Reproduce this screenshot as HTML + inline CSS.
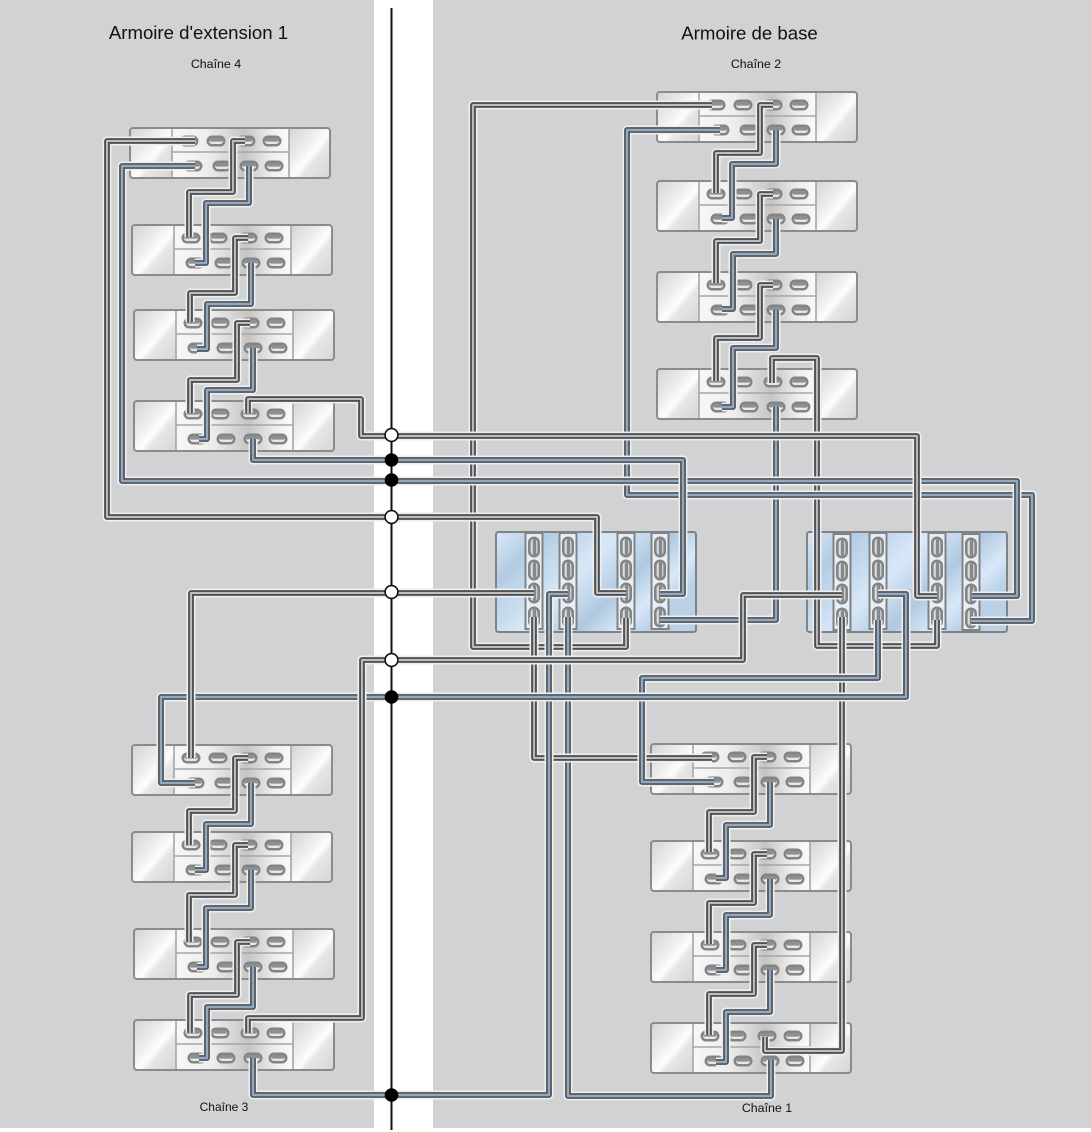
<!DOCTYPE html>
<html><head><meta charset="utf-8"><title>Armoires</title>
<style>
html,body{margin:0;padding:0;background:#fff}
svg{display:block;fill:none;font-family:"Liberation Sans",sans-serif}
text{fill:#111;stroke:none;text-anchor:middle}
.t{font-size:18.6px}.s{font-size:12.4px}
use.h{stroke:#eeeeee;stroke-width:9}
use.d{stroke:#505256;stroke-width:5.8}
use.l{stroke:#bcbdbf;stroke-width:1.9}
use.b{stroke:#8fa9c2;stroke-width:2.4}
path{stroke-linejoin:round}
</style></head><body>
<svg xmlns="http://www.w3.org/2000/svg" width="1091" height="1132" viewBox="0 0 1091 1132">
<defs>
<linearGradient id="gd" x1="0" y1="0" x2="1" y2="1"><stop offset="0" stop-color="#d4d4d4"/><stop offset=".35" stop-color="#ececec"/><stop offset=".55" stop-color="#fdfdfd"/><stop offset=".65" stop-color="#e6e6e6"/><stop offset="1" stop-color="#d6d6d6"/></linearGradient>
<linearGradient id="gm" x1="0" y1="0" x2="1" y2="0"><stop offset="0" stop-color="#f7f7f7"/><stop offset=".3" stop-color="#eeeeee"/><stop offset=".62" stop-color="#c6c5c3"/><stop offset=".85" stop-color="#eeeeee"/><stop offset="1" stop-color="#fafafa"/></linearGradient>
<linearGradient id="gb" x1="0" y1="0" x2="1" y2=".5"><stop offset="0" stop-color="#d8e8f8"/><stop offset=".2" stop-color="#b3cce3"/><stop offset=".5" stop-color="#d8e8f8"/><stop offset=".72" stop-color="#b0c9e0"/><stop offset=".88" stop-color="#d8e8f8"/><stop offset="1" stop-color="#b9d0e6"/></linearGradient>
<g id="p"><rect x="-9.5" y="-5.5" width="19" height="11" rx="5.5" fill="#838486"/><rect x="-7" y="-3" width="14" height="6" rx="3" fill="#e8e8e8"/><rect x="-7" y="-3" width="14" height="3.6" rx="1.8" fill="#8e8f91"/></g>
<g id="q"><rect x="-6" y="-10.5" width="12" height="21" rx="6" fill="#838486"/><rect x="-3.4" y="-8" width="6.8" height="16" rx="3.4" fill="#dcdcdc"/><rect x="-1.2" y="-8" width="3.4" height="16" rx="1.7" fill="#87888a"/></g>
<g id="u">
<rect x="1" y="1" width="200" height="50" rx="3" fill="#eee"/>
<rect x="2" y="2" width="41" height="48" fill="url(#gd)"/>
<rect x="160" y="2" width="40" height="48" fill="url(#gd)"/>
<rect x="43" y="2" width="117" height="48" fill="url(#gm)"/>
<path d="M43 1V51M160 1V51M43 25H160" stroke="#a5a6a8" stroke-width="1.6"/>
<rect x="1" y="1" width="200" height="50" rx="3" stroke="#8a8b8d" stroke-width="2"/>
<use href="#p" x="60" y="14"/><use href="#p" x="87" y="14"/><use href="#p" x="117" y="14"/><use href="#p" x="143" y="14"/>
<use href="#p" x="64" y="39"/><use href="#p" x="93" y="39"/><use href="#p" x="120" y="39"/><use href="#p" x="145" y="39"/>
</g>
<g id="cc">
<rect x="1" y="1" width="200" height="100" rx="2.5" fill="url(#gb)" stroke="#808285" stroke-width="2"/>
</g>
<g id="col"><rect x="-8.5" y="-1" width="17" height="96" fill="#e6eef6" stroke="#808285" stroke-width="2"/>
<use href="#q" y="13"/><use href="#q" y="36"/><use href="#q" y="59"/><use href="#q" y="83"/></g>

<path id="a1" d="M245 141H233V192H189V237"/>
<path id="a2" d="M249 166V203H206V263H195"/>
<path id="a3" d="M248 238H235V293H190V322"/>
<path id="a4" d="M251 263V304H207V349H197"/>
<path id="a5" d="M250 323H237V380H190V413"/>
<path id="a6" d="M253 348V390H207V439H199"/>
<path id="r1" d="M773 105H760V153H716V193"/>
<path id="r2" d="M776 130V164H732V218H722"/>
<path id="r3" d="M773 194H760V241H716V283"/>
<path id="r4" d="M776 219V254H733V309H722"/>
<path id="r5" d="M773 285H760V338H716V381"/>
<path id="r6" d="M776 310V348H733V407H722"/>
<path id="b1" d="M248 758H235V811H189V845"/>
<path id="b2" d="M251 783V824H206V870H195"/>
<path id="b3" d="M248 845H235V895H189V942"/>
<path id="b4" d="M251 870V908H206V967H197"/>
<path id="b5" d="M250 942H237V995H190V1033"/>
<path id="b6" d="M253 967V1007H207V1058H199"/>
<path id="e1" d="M767 757H754V812H709V852"/>
<path id="e2" d="M770 782V825H726V878H716"/>
<path id="e3" d="M767 854H754V903H709V944"/>
<path id="e4" d="M770 879V915H726V970H716"/>
<path id="e5" d="M767 945H754V994H709V1035"/>
<path id="e6" d="M770 970V1012H726V1062H716"/>
<path id="x1" d="M772 383V358H817V646H937V620"/>
<path id="x2" d="M776 407V620H660"/>
<path id="x3" d="M712 105H473V647H626V618"/>
<path id="x4" d="M720 130H627V495H1032V621H971"/>
<path id="x5" d="M248 1033V1018H362V660H743V595H842"/>
<path id="x6" d="M534 593H191V758"/>
<path id="x7" d="M195 783H161V697H906V594H878"/>
<path id="x8" d="M253 1058V1095H549V594H568"/>
<path id="x9" d="M534 617V758H712"/>
<path id="x10" d="M714 782H642V678H878V620"/>
<path id="x11" d="M568 617V1096H771V1060"/>
<path id="x12" d="M842 617V1051H765V1037"/>
<path id="x13" d="M195 141H107V517H597V593H626"/>
<path id="x14" d="M195 166H122V481H1017V596H972"/>
<path id="x15" d="M248 413V399H361V436H917V596H937"/>
<path id="x16" d="M253 439V460H683V594H660"/>
</defs>

<rect x="0" y="0" width="374" height="1128" fill="#d1d2d4"/>
<rect x="433" y="0" width="658" height="1128" fill="#d1d2d4"/>

<text class="t" x="198.5" y="39">Armoire d'extension 1</text>
<text class="t" x="749.5" y="39.5">Armoire de base</text>
<text class="s" x="216" y="68">Chaîne 4</text>
<text class="s" x="756" y="68">Chaîne 2</text>
<text class="s" x="224" y="1111" style="font-size:12px">Chaîne 3</text>
<text class="s" x="767" y="1112">Chaîne 1</text>

<use href="#u" x="129" y="127"/><use href="#u" x="131" y="224"/><use href="#u" x="133" y="309"/><use href="#u" x="133" y="400"/>
<use href="#u" x="131" y="744"/><use href="#u" x="131" y="831"/><use href="#u" x="133" y="928"/><use href="#u" x="133" y="1019"/>
<use href="#u" x="656" y="91"/><use href="#u" x="656" y="180"/><use href="#u" x="656" y="271"/><use href="#u" x="656" y="368"/>
<use href="#u" x="650" y="743"/><use href="#u" x="650" y="840"/><use href="#u" x="650" y="931"/><use href="#u" x="650" y="1022"/>

<use href="#cc" x="495" y="531"/><use href="#cc" x="806" y="531"/>
<use href="#col" x="534" y="534"/><use href="#col" x="568" y="534"/><use href="#col" x="626" y="534"/><use href="#col" x="660" y="534"/>
<use href="#col" x="842" y="535"/><use href="#col" x="878" y="534"/><use href="#col" x="937" y="534"/><use href="#col" x="971" y="535"/>

<!-- cables -->
<use href="#a1" class="h"/><use href="#a1" class="d"/><use href="#a1" class="l"/>
<use href="#a2" class="h"/><use href="#a2" class="d"/><use href="#a2" class="b"/>
<use href="#a3" class="h"/><use href="#a3" class="d"/><use href="#a3" class="l"/>
<use href="#a4" class="h"/><use href="#a4" class="d"/><use href="#a4" class="b"/>
<use href="#a5" class="h"/><use href="#a5" class="d"/><use href="#a5" class="l"/>
<use href="#a6" class="h"/><use href="#a6" class="d"/><use href="#a6" class="b"/>
<use href="#r1" class="h"/><use href="#r1" class="d"/><use href="#r1" class="l"/>
<use href="#r2" class="h"/><use href="#r2" class="d"/><use href="#r2" class="b"/>
<use href="#r3" class="h"/><use href="#r3" class="d"/><use href="#r3" class="l"/>
<use href="#r4" class="h"/><use href="#r4" class="d"/><use href="#r4" class="b"/>
<use href="#r5" class="h"/><use href="#r5" class="d"/><use href="#r5" class="l"/>
<use href="#r6" class="h"/><use href="#r6" class="d"/><use href="#r6" class="b"/>
<use href="#b1" class="h"/><use href="#b1" class="d"/><use href="#b1" class="l"/>
<use href="#b2" class="h"/><use href="#b2" class="d"/><use href="#b2" class="b"/>
<use href="#b3" class="h"/><use href="#b3" class="d"/><use href="#b3" class="l"/>
<use href="#b4" class="h"/><use href="#b4" class="d"/><use href="#b4" class="b"/>
<use href="#b5" class="h"/><use href="#b5" class="d"/><use href="#b5" class="l"/>
<use href="#b6" class="h"/><use href="#b6" class="d"/><use href="#b6" class="b"/>
<use href="#e1" class="h"/><use href="#e1" class="d"/><use href="#e1" class="l"/>
<use href="#e2" class="h"/><use href="#e2" class="d"/><use href="#e2" class="b"/>
<use href="#e3" class="h"/><use href="#e3" class="d"/><use href="#e3" class="l"/>
<use href="#e4" class="h"/><use href="#e4" class="d"/><use href="#e4" class="b"/>
<use href="#e5" class="h"/><use href="#e5" class="d"/><use href="#e5" class="l"/>
<use href="#e6" class="h"/><use href="#e6" class="d"/><use href="#e6" class="b"/>
<use href="#x1" class="h"/><use href="#x1" class="d"/><use href="#x1" class="l"/>
<use href="#x2" class="h"/><use href="#x2" class="d"/><use href="#x2" class="b"/>
<use href="#x3" class="h"/><use href="#x3" class="d"/><use href="#x3" class="l"/>
<use href="#x12" class="h"/><use href="#x12" class="d"/><use href="#x12" class="l"/>
<use href="#x11" class="h"/><use href="#x11" class="d"/><use href="#x11" class="b"/>
<use href="#x9" class="h"/><use href="#x9" class="d"/><use href="#x9" class="l"/>
<use href="#x8" class="h"/><use href="#x8" class="d"/><use href="#x8" class="b"/>
<use href="#x10" class="h"/><use href="#x10" class="d"/><use href="#x10" class="b"/>
<use href="#x7" class="h"/><use href="#x7" class="d"/><use href="#x7" class="b"/>
<use href="#x5" class="h"/><use href="#x5" class="d"/><use href="#x5" class="l"/>
<use href="#x6" class="h"/><use href="#x6" class="d"/><use href="#x6" class="l"/>
<use href="#x13" class="h"/><use href="#x13" class="d"/><use href="#x13" class="l"/>
<use href="#x4" class="h"/><use href="#x4" class="d"/><use href="#x4" class="b"/>
<use href="#x14" class="h"/><use href="#x14" class="d"/><use href="#x14" class="b"/>
<use href="#x16" class="h"/><use href="#x16" class="d"/><use href="#x16" class="b"/>
<use href="#x15" class="h"/><use href="#x15" class="d"/><use href="#x15" class="l"/>

<line x1="391.5" y1="8" x2="391.5" y2="1130" stroke="#111" stroke-width="2"/>
<g stroke="#111" stroke-width="1.6" fill="#fff">
<circle cx="391.5" cy="435" r="6.4"/><circle cx="391.5" cy="517" r="6.4"/><circle cx="391.5" cy="592" r="6.4"/><circle cx="391.5" cy="660" r="6.4"/>
</g>
<g fill="#000">
<circle cx="391.5" cy="460" r="6.8"/><circle cx="391.5" cy="480" r="6.8"/><circle cx="391.5" cy="697" r="6.8"/><circle cx="391.5" cy="1095" r="6.8"/>
</g>
</svg>
</body></html>
